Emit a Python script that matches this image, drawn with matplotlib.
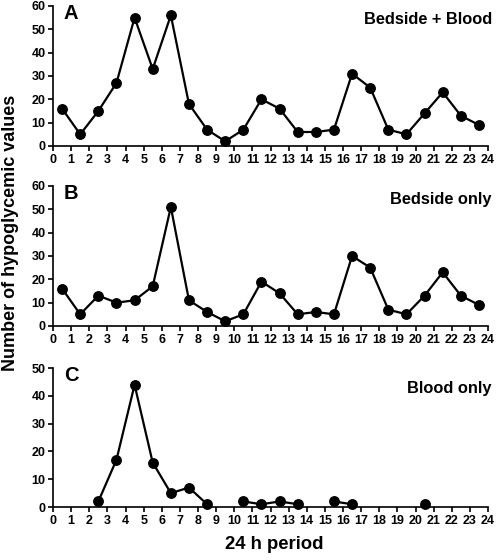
import matplotlib
matplotlib.use("Agg")
import matplotlib.pyplot as plt
import numpy as np

plt.rcParams["font.family"] = ["Liberation Sans", "DejaVu Sans"]
plt.rcParams["font.weight"] = "bold"

hours = np.arange(24) + 0.5
nan = np.nan

bedside_blood = [16, 5, 15, 27, 55, 33, 56, 18, 7, 2, 7, 20,
                 16, 6, 6, 7, 31, 25, 7, 5, 14, 23, 13, 9]
bedside_only = [16, 5, 13, 10, 11, 17, 51, 11, 6, 2, 5, 19,
                14, 5, 6, 5, 30, 25, 7, 5, 13, 23, 13, 9]
blood_only = [nan, nan, 2, 17, 44, 16, 5, 7, 1, nan, 2, 1,
              2, 1, nan, 2, 1, nan, nan, nan, 1, nan, nan, nan]

# letter, title, data, ymax, (bottom, height), title y (axes frac)
panels = [
    ("A", "Bedside + Blood", bedside_blood, 60, [0.7393, 0.25], 0.90),
    ("B", "Bedside only", bedside_only, 60, [0.4179, 0.25], 0.90),
    ("C", "Blood only", blood_only, 50, [0.0946, 0.248], 0.856),
]

fig = plt.figure(figsize=(4.96, 5.6), dpi=100)

for letter, title, vals, ymax, (bottom, h), ty in panels:
    ax = fig.add_axes([0.1069, bottom, 0.877, h])
    ax.plot(hours, vals, color="black", lw=1.6, marker="o", ms=6.8,
            clip_on=False)
    ax.set_xlim(0, 24)
    ax.set_ylim(0, ymax)
    ax.set_xticks(range(25))
    ax.set_yticks(range(0, ymax + 1, 10))
    ax.spines["top"].set_visible(False)
    ax.spines["right"].set_visible(False)
    ax.spines["left"].set_linewidth(1.2)
    ax.spines["bottom"].set_linewidth(1.2)
    ax.tick_params(length=3.5, width=1.2, labelsize=9, pad=2)
    for lab in ax.get_xticklabels() + ax.get_yticklabels():
        lab.set_fontweight("bold")
    ax.text(0.025, 1.015, letter, transform=ax.transAxes, fontsize=14.5,
            fontweight="bold", va="top", ha="left")
    ax.text(1.009, ty, title, transform=ax.transAxes, fontsize=11.8,
            fontweight="bold", va="center", ha="right")

fig.text(0.022, 0.584, "Number of hypoglycemic values", rotation=90,
         fontsize=13, fontweight="bold", va="center", ha="center")
fig.text(0.552, 0.012, "24 h period", fontsize=13.3, fontweight="bold",
         va="bottom", ha="center")

plt.savefig("out.png", dpi=100)
